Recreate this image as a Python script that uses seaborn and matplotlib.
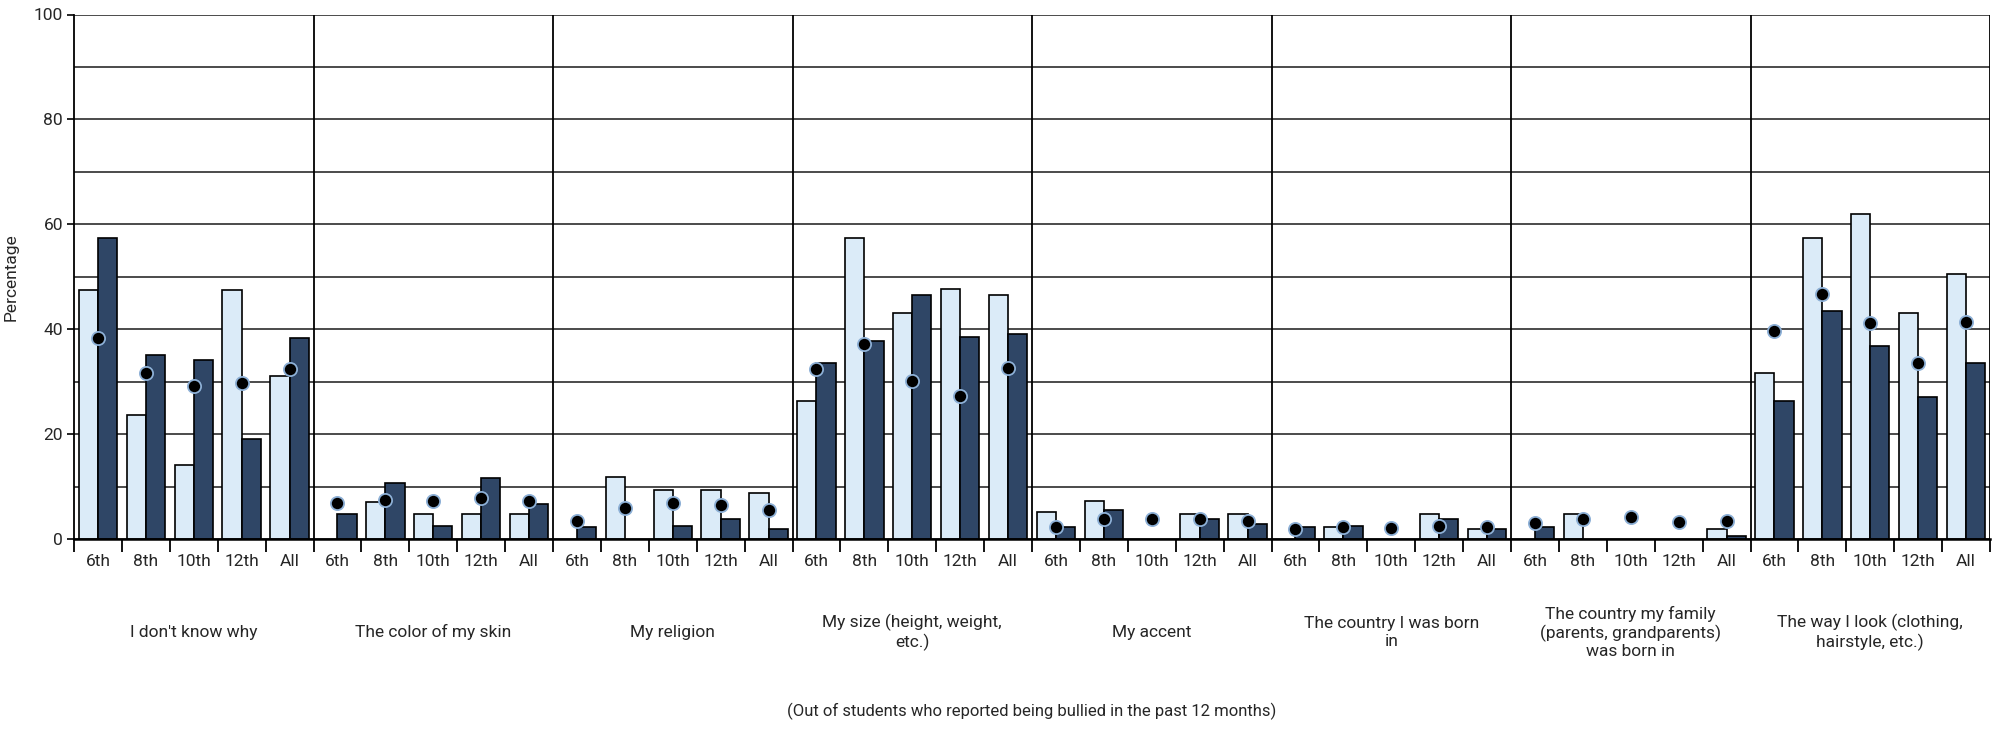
import numpy as np
import pandas as pd
import matplotlib
matplotlib.use('Agg')
import matplotlib.pyplot as plt
import matplotlib.transforms as mtransforms
import seaborn as sns

sns.set_theme(style='white')
plt.rcParams['font.family'] = ['Liberation Sans Narrow', 'Roboto', 'DejaVu Sans']

# reasons, each shown for 6th/8th/10th/12th/All
reasons = ["I don't know why", "The color of my skin", "My religion",
           "My size (height, weight,\netc.)", "My accent",
           "The country I was born\nin",
           "The country my family\n(parents, grandparents)\nwas born in",
           "The way I look (clothing,\nhairstyle, etc.)"]
grades = ['6th', '8th', '10th', '12th', 'All']

# light bars (None = no bar shown)
light_values = [47.5, 23.6, 14.2, 47.5, 31.1,
                None, 7.1, 4.7, 4.7, 4.7,
                None, 11.9, 9.4, 9.4, 8.7,
                26.4, 57.3, 43.0, 47.6, 46.6,
                5.2, 7.2, None, 4.8, 4.8,
                None, 2.2, None, 4.8, 1.9,
                None, 4.8, None, None, 1.9,
                31.6, 57.4, 61.9, 43.0, 50.6]
# dark bars
dark_values = [57.3, 35.0, 34.1, 19.1, 38.4,
               4.7, 10.6, 2.5, 11.6, 6.7,
               2.2, None, 2.5, 3.8, 1.9,
               33.6, 37.8, 46.6, 38.5, 39.1,
               2.2, 5.5, None, 3.9, 2.8,
               2.2, 2.5, None, 3.9, 1.9,
               2.2, None, None, None, 0.6,
               26.4, 43.4, 36.8, 27.1, 33.6]
# dots
dot_values = [38.3, 31.6, 29.2, 29.8, 32.4,
              6.8, 7.4, 7.3, 7.8, 7.3,
              3.4, 6.0, 6.8, 6.5, 5.6,
              32.4, 37.1, 30.2, 27.2, 32.6,
              2.3, 3.8, 3.9, 3.8, 3.5,
              2.0, 2.2, 2.1, 2.4, 2.2,
              3.0, 3.8, 4.1, 3.2, 3.5,
              39.7, 46.7, 41.1, 33.5, 41.4]

LIGHT = '#d6ebfd'
DARK = '#26446f'

slots = [f'{i}_{g}' for i in range(len(reasons)) for g in grades]

rows = []
for s, a, b in zip(slots, light_values, dark_values):
    if a is not None:
        rows.append({'slot': s, 'series': 'light', 'value': a})
    if b is not None:
        rows.append({'slot': s, 'series': 'dark', 'value': b})
bars = pd.DataFrame(rows)
dots = pd.DataFrame({'slot': slots, 'value': dot_values})

fig = plt.figure(figsize=(20.01, 7.31), dpi=100)
ax = fig.add_axes([74 / 2001, 1 - 539 / 731, (1990 - 74) / 2001, (539 - 14.5) / 731])

sns.barplot(data=bars, x='slot', y='value', hue='series', order=slots,
            hue_order=['light', 'dark'], palette={'light': LIGHT, 'dark': DARK},
            edgecolor='black', linewidth=1.2, legend=False, ax=ax, zorder=3)
sns.pointplot(data=dots, x='slot', y='value', order=slots, color='black',
              linestyle='none', marker='o', markersize=9.5,
              markeredgecolor='#8db0d6', markeredgewidth=1.3,
              errorbar=None, ax=ax, zorder=5)

n = len(slots)
ax.set_xlim(-0.5, n - 0.5)
ax.set_ylim(0, 100)

ax.set_yticks(range(0, 101, 20))
ax.set_yticks(range(10, 100, 20), minor=True)
ax.grid(which='both', axis='y', color='#1a1a1a', linewidth=1.1)
ax.grid(False, axis='x')
ax.set_axisbelow(True)
ax.tick_params(axis='y', which='major', left=True, length=5, width=1.2,
               color='black', labelsize=12.5, pad=3)
ax.tick_params(axis='y', which='minor', left=False)

ax.set_xticks(range(n), labels=grades * len(reasons))
ax.set_xticks(np.arange(-0.5, n, 1), minor=True)
ax.tick_params(axis='x', which='major', bottom=True, length=0, labelsize=12.5, pad=11)
ax.tick_params(axis='x', which='minor', bottom=True, length=9, width=1.3, color='black')
ax.set_xlabel('')
ax.set_ylabel('Percentage', fontsize=12.5)
ax.yaxis.set_label_coords(-0.029, 0.5)

for sp in ['top', 'right']:
    ax.spines[sp].set_visible(False)
ax.spines['left'].set_color('black')
ax.spines['left'].set_linewidth(1.3)
ax.spines['bottom'].set_color('black')
ax.spines['bottom'].set_linewidth(1.8)
ax.spines['bottom'].set_zorder(6)

for k in range(1, len(reasons) + 1):
    ax.axvline(k * 5 - 0.5, color='black', linewidth=1.3, zorder=1)

trans = mtransforms.blended_transform_factory(ax.transData, ax.transAxes)
for i, name in enumerate(reasons):
    ax.text(i * 5 + 2, -0.178, name, transform=trans, ha='center', va='center',
            fontsize=12.5, linespacing=1.2)

fig.text((74 + 1990) / 2 / 2001, 1 - 711 / 731,
         '(Out of students who reported being bullied in the past 12 months)',
         ha='center', va='center', fontsize=12)

fig.savefig('out.png', dpi=100)
